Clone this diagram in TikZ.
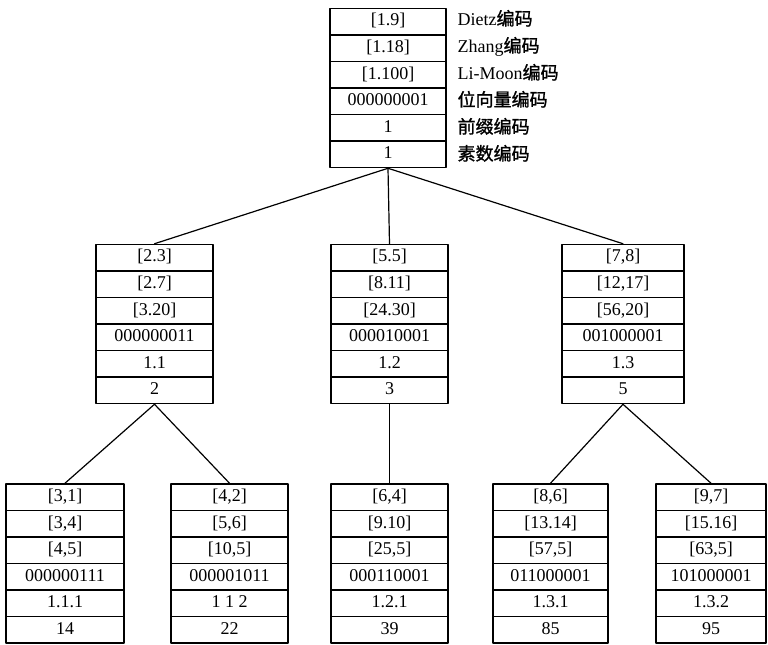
\documentclass[tikz,border=0pt]{standalone}
\usepackage{fontspec}
\setmainfont{Liberation Serif}
\newfontfamily\cjk{Noto Sans CJK SC}[FakeBold=1.2]
\usetikzlibrary{shapes.multipart}

% one row strut, so that all six parts are as high
\newcommand\rs{\rule[-3pt]{0pt}{12.5pt}}
\newcommand\sixrows[6]{\rs#1\nodepart{two}\rs#2\nodepart{three}\rs#3\nodepart{four}\rs#4\nodepart{five}\rs#5\nodepart{six}\rs#6}

\tikzset{
  rec/.style={rectangle split, rectangle split parts=6, draw, line width=1pt,
    minimum width=87.75pt, inner ysep=3.2pt, inner xsep=2pt},
  tag/.style={anchor=west, inner sep=0pt, text height=9pt, text depth=3pt},
  link/.style={line width=0.9pt}
}

\begin{document}
\begin{tikzpicture}[x=0.75pt, y=-0.75pt, font=\fontsize{13.5}{15}\selectfont, line join=round, line cap=round]
  \useasboundingbox (0,0) rectangle (768,645);
  % root and its codes
  \node[rec, minimum width=87pt] (root) at (388,88)
    {\sixrows{[1.9]}{[1.18]}{[1.100]}{000000001}{1}{1}};
  \foreach \lbl [count=\i] in {Dietz{\cjk 编码}, Zhang{\cjk 编码}, Li-Moon{\cjk 编码}, {\cjk 位向量编码}, {\cjk 前缀编码}, {\cjk 素数编码}}
    \node[tag] (key\i) at ([xshift=8pt, yshift={-(\i-0.5)*20.25pt}]root.north east) {\lbl};
  % second level
  \node[rec] (a) at (154.5,324)
    {\sixrows{[2.3]}{[2.7]}{[3.20]}{000000011}{1.1}{2}};
  \node[rec] (b) at (389.5,324)
    {\sixrows{[5.5]}{[8.11]}{[24.30]}{000010001}{1.2}{3}};
  \node[rec, minimum width=91.5pt] (c) at (623,324)
    {\sixrows{[7,8]}{[12,17]}{[56,20]}{001000001}{1.3}{5}};
  % leaves
  \node[rec, minimum width=88.5pt] (aa) at (65,563.5)
    {\sixrows{[3,1]}{[3,4]}{[4,5]}{000000111}{1.1.1}{14}};
  \node[rec] (ab) at (229.5,563.5)
    {\sixrows{[4,2]}{[5,6]}{[10,5]}{000001011}{1 1 2}{22}};
  \node[rec] (ba) at (389.5,563.5)
    {\sixrows{[6,4]}{[9.10]}{[25,5]}{000110001}{1.2.1}{39}};
  \node[rec, minimum width=86.25pt] (ca) at (550.5,563.5)
    {\sixrows{[8,6]}{[13.14]}{[57,5]}{011000001}{1.3.1}{85}};
  \node[rec, minimum width=82.5pt] (cb) at (711,563.5)
    {\sixrows{[9,7]}{[15.16]}{[63,5]}{101000001}{1.3.2}{95}};
  % tree edges
  \foreach \p/\q in {root/a, root/b, root/c, a/aa, a/ab, b/ba, c/ca, c/cb}
    \draw[link] (\p.south) -- (\q.north);
\end{tikzpicture}
\end{document}
